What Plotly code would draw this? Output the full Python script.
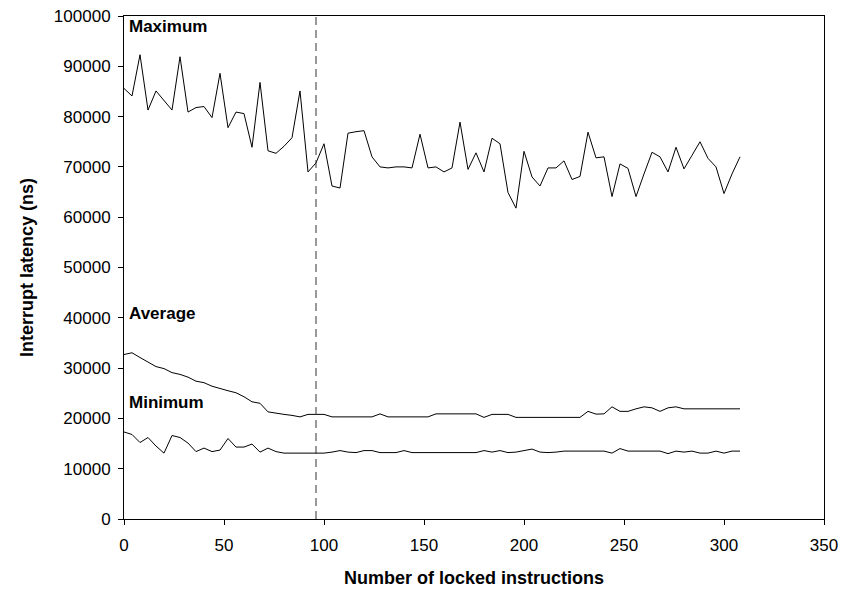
import plotly.graph_objects as go

x_vals = list(range(0, 312, 4))  # 0..308 step 4 (78 points)

maximum = [85600, 84100, 92300, 81300, 85100, 83300, 81300, 91900, 80900, 81800,
           82000, 79800, 88600, 77800, 80900, 80600, 73900, 86800, 73200, 72700,
           74100, 75800, 85100, 69000, 70800, 74600, 66200, 65800, 76700, 77000,
           77200, 72000, 70000, 69800, 70000, 70000, 69800, 76500, 69800, 70000,
           69000, 69800, 78900, 69500, 72800, 69000, 75700, 74600, 64900, 61800,
           73100, 68000, 66200, 69800, 69800, 71200, 67500, 68100, 76900, 71800,
           72000, 64100, 70600, 69700, 64100, 68600, 72900, 72000, 69000, 73900,
           69600, 72300, 75000, 71700, 70000, 64700, 68600, 72000]

average = [32700, 33050, 32100, 31200, 30300, 29900, 29100, 28750, 28200, 27400,
           27100, 26400, 25900, 25500, 25100, 24300, 23300, 23000, 21300, 21000,
           20800, 20600, 20300, 20800, 20800, 20800, 20300, 20300, 20300, 20300,
           20300, 20300, 20900, 20300, 20300, 20300, 20300, 20300, 20300, 20900,
           20900, 20900, 20900, 20900, 20900, 20200, 20800, 20800, 20800, 20200,
           20200, 20200, 20200, 20200, 20200, 20200, 20200, 20200, 21400, 20850,
           20900, 22300, 21400, 21400, 21900, 22300, 22100, 21400, 22100, 22300,
           21900, 21900, 21900, 21900, 21900, 21900, 21900, 21900]

minimum = [17300, 16800, 15200, 16200, 14500, 13100, 16600, 16200, 15100, 13400,
           14100, 13400, 13700, 16000, 14300, 14300, 14900, 13300, 14100, 13400,
           13100, 13100, 13100, 13100, 13100, 13100, 13300, 13600, 13300, 13200,
           13600, 13600, 13200, 13200, 13200, 13600, 13200, 13200, 13200, 13200,
           13200, 13200, 13200, 13200, 13200, 13600, 13300, 13600, 13200, 13300,
           13600, 13900, 13300, 13200, 13300, 13500, 13500, 13500, 13500, 13500,
           13500, 13100, 14000, 13500, 13500, 13500, 13500, 13500, 13000, 13500,
           13300, 13500, 13100, 13100, 13500, 13100, 13500, 13500]

marker_x = [96, 96]
marker_y = [0, 100000]

labels = ["Maximum", "Average", "Minimum"]
label_y = [97900, 40900, 23200]

x_ticks = [0, 50, 100, 150, 200, 250, 300, 350]
y_ticks = list(range(0, 100001, 10000))

FONT = "Liberation Sans, Arial, sans-serif"

fig = go.Figure()
for series in (maximum, average, minimum):
    fig.add_trace(go.Scatter(x=x_vals, y=series, mode="lines",
                             line=dict(color="black", width=1),
                             showlegend=False, hoverinfo="skip"))
fig.add_trace(go.Scatter(x=marker_x, y=marker_y, mode="lines",
                         line=dict(color="#333333", width=1, dash="8px,5px"),
                         showlegend=False, hoverinfo="skip"))

for txt, yy in zip(labels, label_y):
    fig.add_annotation(x=1.5, y=yy, text="<b>%s</b>" % txt, showarrow=False,
                       xanchor="left", yanchor="middle",
                       font=dict(family=FONT, size=17, color="black"))

# x-axis title as a paper annotation so it does not push the plot area
fig.add_annotation(x=0.5, y=-0.117, xref="paper", yref="paper",
                   text="<b>Number of locked instructions</b>", showarrow=False,
                   xanchor="center", yanchor="middle",
                   font=dict(family=FONT, size=18, color="black"))

fig.update_layout(
    width=852, height=593,
    margin=dict(l=124, r=28, t=16, b=74),
    paper_bgcolor="white", plot_bgcolor="white",
    font=dict(family=FONT, size=17, color="black"),
)
fig.update_xaxes(range=[0, 350], tickvals=x_ticks, ticks="outside", ticklen=5,
                 tickcolor="black", showline=True, linecolor="black", linewidth=1,
                 mirror=True, showgrid=False, zeroline=False, tickformat="d",
                 ticklabelstandoff=6, automargin=False,
                 tickfont=dict(family=FONT, size=17))
fig.update_yaxes(range=[0, 100000], tickvals=y_ticks, ticks="outside", ticklen=5,
                 tickcolor="black", showline=True, linecolor="black", linewidth=1,
                 mirror=True, showgrid=False, zeroline=False, tickformat="d",
                 ticklabelstandoff=4, automargin=False,
                 title=dict(text="<b>Interrupt latency (ns)</b>",
                            font=dict(family=FONT, size=18), standoff=15),
                 tickfont=dict(family=FONT, size=17))

fig.write_html("out.html")
